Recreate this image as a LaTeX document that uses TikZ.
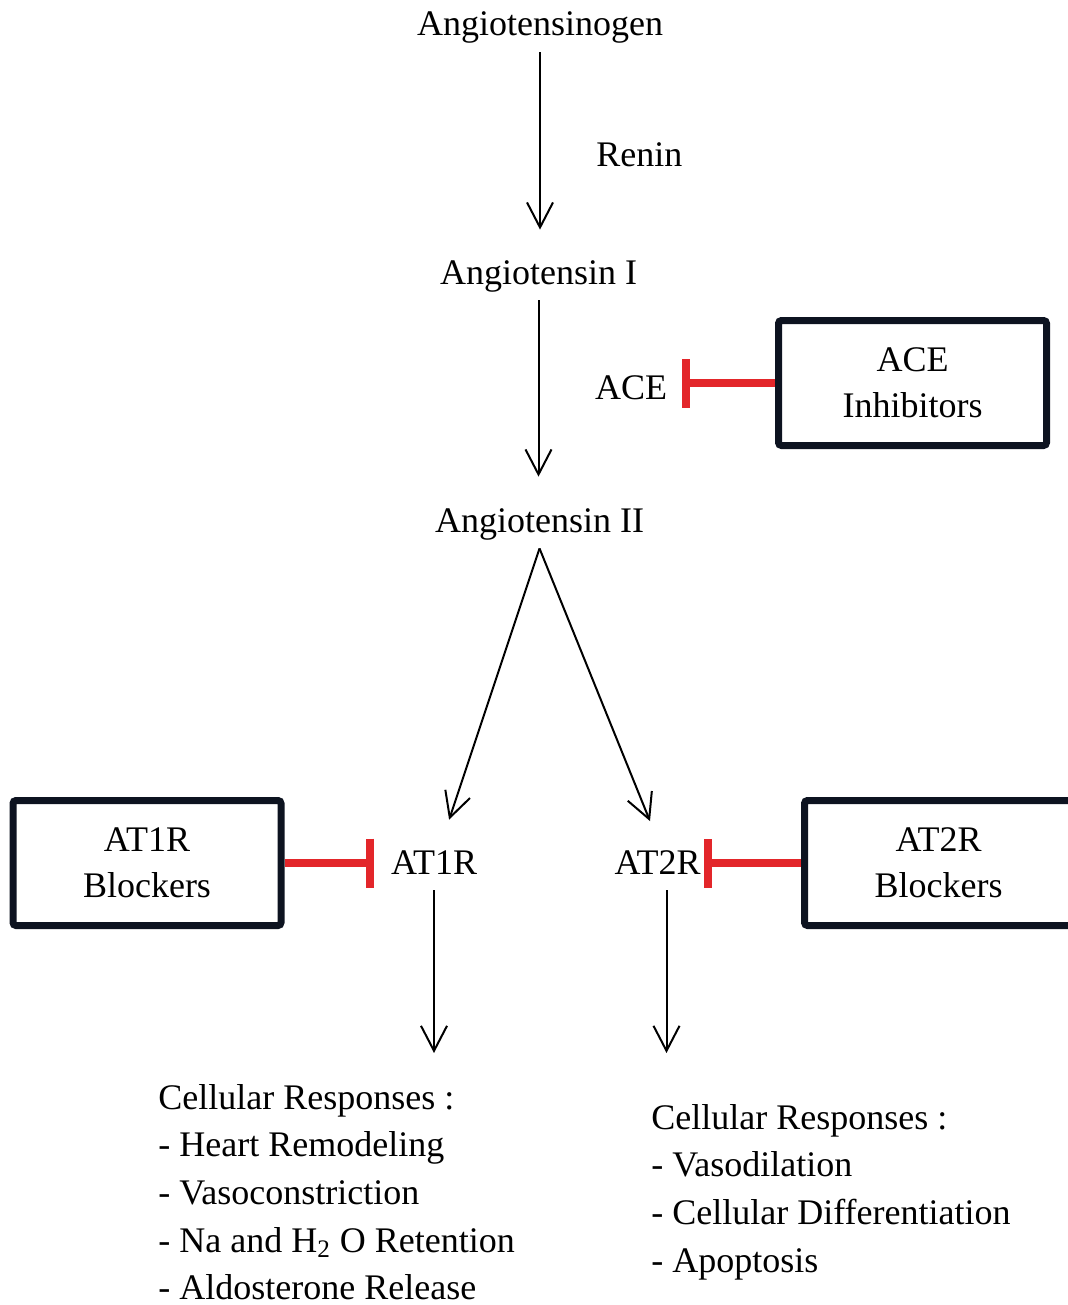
\documentclass[tikz,border=0pt]{standalone}
\usepackage{fontspec}
\setmainfont{Liberation Serif}
\usetikzlibrary{arrows.meta, calc}
\definecolor{inhibit}{HTML}{E3262A}
\definecolor{boxline}{HTML}{0D1320}

\begin{document}
\begin{tikzpicture}[x=0.5pt, y=-0.5pt,
    every node/.style={font=\fontsize{18}{23}\selectfont},
    lbl/.style={inner sep=4pt, text height=13pt, text depth=4pt},
    drug/.style={draw=boxline, line width=3.5pt, rounded corners=1.5pt, align=center,
                 minimum width=134pt, minimum height=62.5pt, inner sep=0pt},
    resp/.style={anchor=north west, align=left, inner sep=0pt, font=\fontsize{18}{23.8}\selectfont},
    conv/.style={-{Straight Barb[length=12.5pt, width=13pt]}, line width=1pt},
    block/.style={inhibit, line width=4pt, -{Bar[width=24.5pt]}}]
  \useasboundingbox (0,0) rectangle (1068,1305);

  \node[lbl, anchor=base] (agt)  at (540,36)    {Angiotensinogen};
  \node[lbl, anchor=base west, inner sep=0pt] (renin) at (596,167) {Renin};
  \node[lbl, anchor=base] (ang1) at (538.5,284) {Angiotensin I};
  \node[lbl, anchor=base] (ace)  at (631,399)   {ACE};
  \node[lbl, anchor=base] (ang2) at (539.5,532) {Angiotensin II};
  \node[lbl, anchor=base] (at1)  at (434,874)   {AT1R};
  \node[lbl, anchor=base] (at2)  at (657.5,874) {AT2R};

  \node[drug] (aceinh) at (912.5,383) {ACE\\Inhibitors};
  \node[drug] (at1blk) at (147,863)   {AT1R\\Blockers};
  \node[drug] (at2blk) at (938.5,863) {AT2R\\Blockers};

  \node[resp] (resp1) at (158,1084)
    {Cellular Responses :\\- Heart Remodeling\\- Vasoconstriction\\- Na and H\textsubscript{2} O Retention\\- Aldosterone Release};
  \node[resp] (resp2) at (651,1104)
    {Cellular Responses :\\- Vasodilation\\- Cellular Differentiation\\- Apoptosis};

  \draw[conv, shorten >=10pt] (agt.south) -- (agt.south |- ang1.north);
  \draw[conv, shorten >=10.5pt] (ang1.south) -- (ang1.south |- ang2.north);
  \draw[conv, shorten >=10.5pt] (ang2.south) -- (at1);
  \draw[conv, shorten >=10pt] (ang2.south) -- (at2.north);
  \draw[conv, shorten >=15.5pt] (at1.south) -- (at1.south |- resp1.north);
  \coordinate (at2out) at ($(at2.south)+(9,0)$);
  \draw[conv, shorten >=25.5pt] (at2out) -- (at2out |- resp2.north);

  \draw[block, shorten >=3.5pt] (aceinh.west) -- (aceinh.west -| ace.east);
  \draw[block, shorten >=4.5pt] (at1blk.east) -- (at1blk.east -| at1.west);
  \draw[block, shorten >=-2.5pt] (at2blk.west) -- (at2blk.west -| at2.east);
\end{tikzpicture}
\end{document}
